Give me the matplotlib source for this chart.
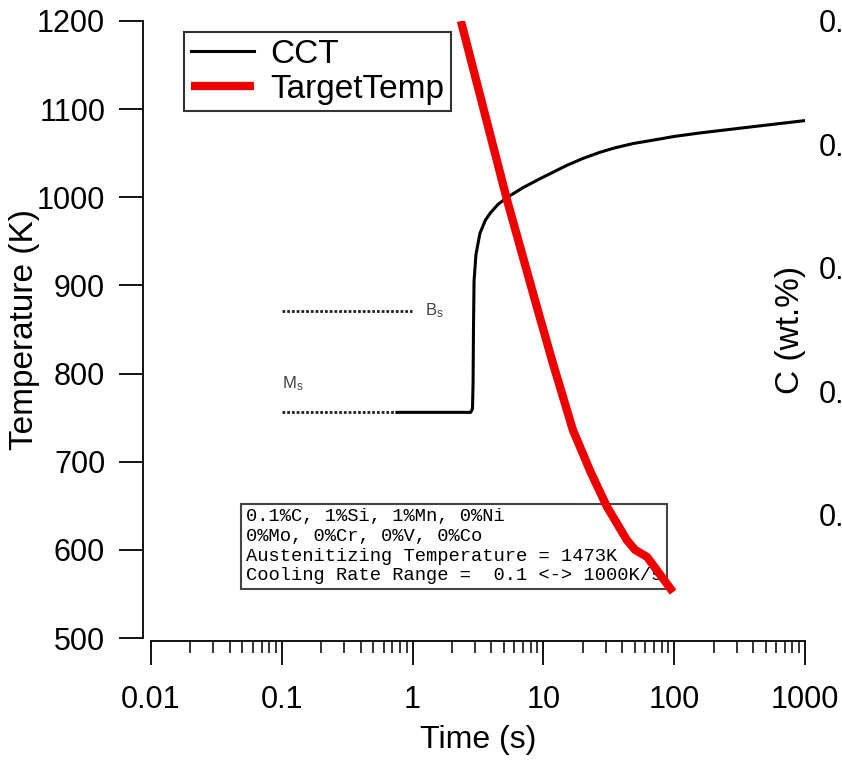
import matplotlib
matplotlib.use('Agg')
import matplotlib.pyplot as plt

plt.rcParams['font.family'] = ['Liberation Sans', 'DejaVu Sans']
plt.rcParams['mathtext.fontset'] = 'custom'
plt.rcParams['mathtext.rm'] = 'Liberation Sans'

# CCT curve (black)
cct_time = [0.76, 2.78, 2.87, 2.9, 2.92, 2.95, 3.05, 3.27, 3.6, 3.92, 4.5, 5.3,
            7.0, 9.4, 15, 20, 27, 35, 48.6, 70, 100, 157, 450, 1000]
cct_temp = [756, 756, 760, 790, 850, 905, 935, 959, 974, 982, 992, 1000,
            1011, 1021, 1036, 1044, 1051, 1056, 1061, 1065, 1069, 1073, 1081, 1087]

# target cooling curve (red)
target_time = [2.34, 5.27, 8.63, 11.8, 16.8, 23, 30.6, 43.5, 50.2, 62, 98]
target_temp = [1200, 997, 883, 812, 736, 688, 649, 611, 600, 592, 552]

# start temperatures (dotted lines)
ms_time = [0.1, 0.76]
ms_temp = [756, 756]
bs_time = [0.1, 0.99]
bs_temp = [871, 871]

c_ticks = [0.1, 0.2, 0.3, 0.4, 0.5]
x_ticks = [0.01, 0.1, 1, 10, 100, 1000]
x_ticklabels = ['0.01', '0.1', '1', '10', '100', '1000']
y_ticks = [500, 600, 700, 800, 900, 1000, 1100, 1200]

info = ("0.1%C, 1%Si, 1%Mn, 0%Ni\n"
        "0%Mo, 0%Cr, 0%V, 0%Co\n"
        "Austenitizing Temperature = 1473K\n"
        "Cooling Rate Range =  0.1 <-> 1000K/s")

W, H = 842, 762
fig = plt.figure(figsize=(W / 100, H / 100), dpi=100)
ax = fig.add_axes([151 / W, 1 - 638 / H, (805 - 151) / W, (638 - 21) / H])

ax.set_xscale('log')
ax.set_xlim(0.01, 1000)
ax.set_ylim(500, 1200)

ax.plot(ms_time, ms_temp, color='#222222', lw=2, ls=(0, (1, 0.7)))
ax.plot(bs_time, bs_temp, color='#222222', lw=2, ls=(0, (1, 0.7)))
ax.plot(cct_time, cct_temp, color='black', lw=2.2, label='CCT')
ax.plot(target_time, target_temp, color='#ee0000', lw=6, label='TargetTemp',
        solid_joinstyle='round', solid_capstyle='butt', zorder=5)

ax.text(1.24, 871, r'$\mathrm{B_s}$', fontsize=12, color='#444444',
        ha='left', va='center')
ax.text(0.1, 789, r'$\mathrm{M_s}$', fontsize=12, color='#444444',
        ha='left', va='center')

ax.text(0.053, 647, info, family='Liberation Mono', fontsize=13.5,
        linespacing=1.2, ha='left', va='top',
        bbox=dict(boxstyle='square,pad=0.25', fc='white', ec='#444444', lw=1.5))

for s in ['top', 'right']:
    ax.spines[s].set_visible(False)
ax.spines['left'].set_position(('outward', 6))
ax.spines['bottom'].set_position(('outward', 2))
ax.spines['left'].set_linewidth(1.3)
ax.spines['bottom'].set_linewidth(1.3)

ax.set_xticks(x_ticks)
ax.set_xticklabels(x_ticklabels)
ax.set_yticks(y_ticks)
ax.tick_params(axis='both', which='major', labelsize=22, width=1.3, direction='out')
ax.tick_params(axis='y', length=17, pad=10)
ax.tick_params(axis='x', which='major', length=17, pad=15)
ax.tick_params(axis='x', which='minor', length=8.5, width=1.1)

ax.set_xlabel('Time (s)', fontsize=23)
ax.set_ylabel('Temperature (K)', fontsize=24)
ax.xaxis.label.set_va('center')
ax.yaxis.label.set_va('center')
ax.xaxis.set_label_coords(0.5, (638 - 740) / 617)
ax.yaxis.set_label_coords((25 - 151) / 654, 0.5)

leg = ax.legend(loc='upper left', bbox_to_anchor=((184 - 151) / 654, 1 - (32 - 21) / 617),
                fontsize=24, frameon=True, fancybox=False, borderpad=0.2,
                handlelength=1.9, handletextpad=0.5, labelspacing=0.12,
                borderaxespad=0)
leg.get_frame().set_edgecolor('black')
leg.get_frame().set_linewidth(1.5)

ax2 = ax.twinx()
ax2.set_ylim(0, 0.5)
ax2.set_yticks(c_ticks)
for s in ax2.spines.values():
    s.set_visible(False)
ax2.tick_params(axis='y', length=0, pad=10, labelsize=22)
ax2.set_ylabel('C (wt.%)', fontsize=24, rotation=90)
ax2.yaxis.label.set_va('center')
ax2.yaxis.set_label_coords((790 - 151) / 654, 0.5)

fig.savefig('out.png', dpi=100)
